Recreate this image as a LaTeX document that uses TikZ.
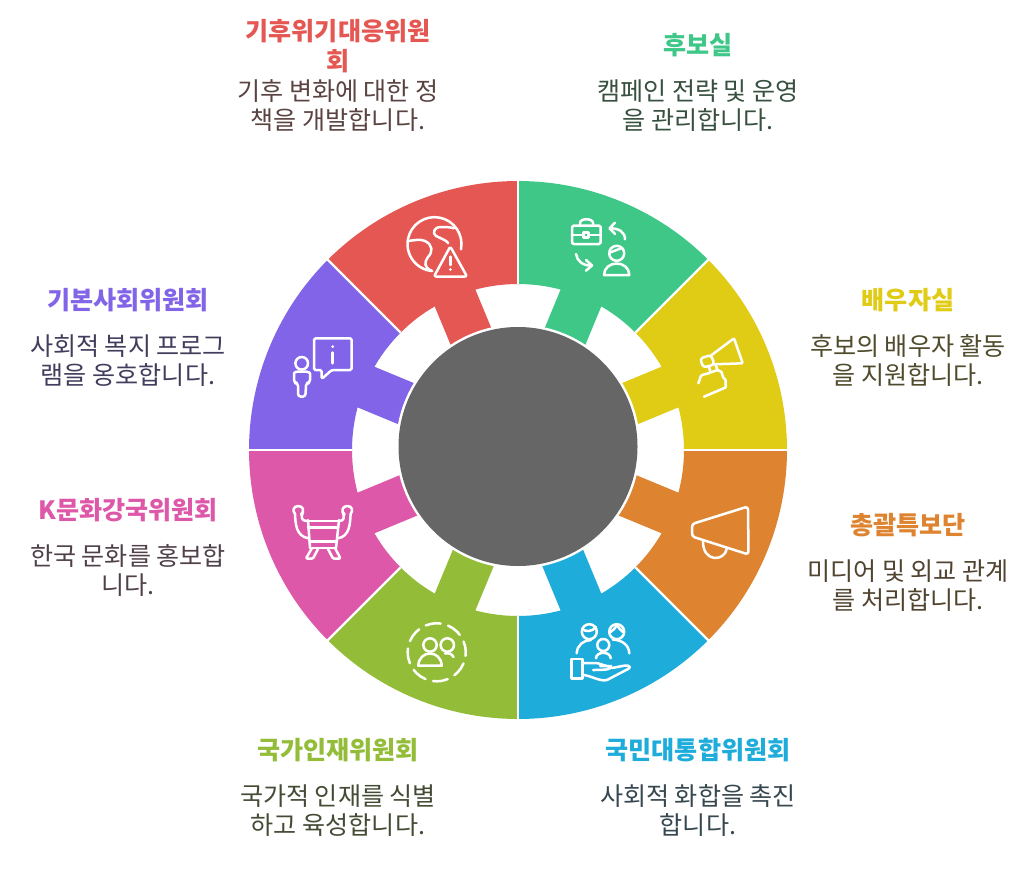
\documentclass[tikz,border=0pt]{standalone}
\usepackage{fontspec}
\setmainfont{Noto Sans CJK KR}
\definecolor{cred}{HTML}{E55753}
\definecolor{cgreen}{HTML}{3EC787}
\definecolor{cyellow}{HTML}{E0CB15}
\definecolor{corange}{HTML}{DE8431}
\definecolor{cblue}{HTML}{1EACDB}
\definecolor{clime}{HTML}{93BD39}
\definecolor{cpink}{HTML}{DE58A9}
\definecolor{cpurple}{HTML}{8164E8}
\definecolor{cgray}{HTML}{666666}
\definecolor{tred}{HTML}{5A4341}
\definecolor{tgreen}{HTML}{37503F}
\definecolor{tyellow}{HTML}{4F4B2C}
\definecolor{torange}{HTML}{50432F}
\definecolor{tblue}{HTML}{36474F}
\definecolor{tlime}{HTML}{444B35}
\definecolor{tpink}{HTML}{504049}
\definecolor{tpurple}{HTML}{423D5C}
\newcommand{\petal}[2]{%
  \begin{scope}[rotate=#1]
    \fill[#2] (100,-22) -- (164.53,-22) arc[start angle=-7.62,end angle=-22.5,radius=166]
      -- (-22.5:269) arc[start angle=-22.5,end angle=22.5,radius=269]
      -- (22.5:166) arc[start angle=22.5,end angle=7.62,radius=166] -- (100,22) -- cycle;
  \end{scope}}
\tikzset{
  title/.style={font=\fontsize{25.1}{29.5}\selectfont\bfseries,align=center,anchor=center,inner sep=0pt},
  body/.style={font=\fontsize{25.1}{29.5}\selectfont,align=center,anchor=center,inner sep=0pt},
  icon/.style={draw=white,line width=2.5pt,line cap=round,line join=round,fill=none},
  sep/.style={draw=white,line width=2.4pt}
}
\begin{document}
\begin{tikzpicture}[x=1pt,y=-1pt]
\useasboundingbox (0,0) rectangle (1032,869);
\fill[white] (0,0) rectangle (1032,869);
% petals
\begin{scope}[shift={(518,450)},y=1pt]
  \petal{67.5}{cgreen}
  \petal{22.5}{cyellow}
  \petal{-22.5}{corange}
  \petal{-67.5}{cblue}
  \petal{-112.5}{clime}
  \petal{-157.5}{cpink}
  \petal{157.5}{cpurple}
  \petal{112.5}{cred}
  \foreach \a in {0,45,...,315} \draw[sep] (\a:166) -- (\a:272);
\end{scope}
% hub
\fill[white] (518,446.5) circle[radius=122pt];
\fill[cgray] (518,446.5) circle[radius=119.5pt];
% --- red: globe with warning
\draw[icon] (461,249.3) arc[start angle=-11,end angle=265,radius=27pt];
\draw[icon,rounded corners=2pt] (450.3,246.5) -- (467,276.5) -- (434,276.5) -- cycle;
\draw[icon] (450.3,256.7) -- (450.3,265);
\fill[white] (450.3,269.5) circle[radius=1.5pt];
\draw[icon] (408.3,241) .. controls (415,240) and (421,239) .. (425,241) .. controls (433,245) and (433,252) .. (428,257) .. controls (424,262) and (424,268) .. (431.7,270.7);
\draw[icon] (454,228.3) .. controls (450,227) and (445,227) .. (441,227) .. controls (434,227) and (432,233) .. (436,236) .. controls (442,239) and (446,240) .. (448.3,243.3);
% --- green: briefcase, arrows, person
\draw[icon,rounded corners=1.5pt] (572,225.7) rectangle (600.7,244);
\draw[icon] (580,225.7) -- (580,223) .. controls (580,218) and (593,218) .. (593,223) -- (593,225.7);
\draw[icon] (572,235) -- (583.3,235) (588.7,235) -- (600.7,235);
\draw[icon] (583.3,232.3) rectangle (588.7,237.7);
\draw[icon] (625,239.3) .. controls (625,232) and (619,228.3) .. (610,228.3);
\draw[icon] (615,222.7) -- (609.5,228.3) -- (615,234);
\draw[icon] (576,254) .. controls (577,261) and (583,266) .. (591.7,265.5);
\draw[icon] (586,260) -- (592,265.5) -- (586,270.7);
\draw[icon] (616.7,253.3) circle[radius=7.5pt];
\draw[icon] (610,252.5) -- (622,248);
\draw[icon] (604,275) .. controls (604,268) and (610,263.5) .. (616.7,263.5) .. controls (623.5,263.5) and (629.3,268) .. (629.3,275) -- cycle;
% --- yellow: megaphone in hand
\draw[icon,rounded corners=1pt] (711,355.5) -- (734,338.3) -- (742.7,363.3) -- (714.3,364.3);
\draw[icon,rounded corners=3pt] (700,358.5) -- (711,355) -- (714.5,364.5) -- (703.3,367.5) -- cycle;
\draw[icon] (709,367) -- (710.5,372.5) -- (717.5,370) -- (715.5,364.5);
\draw[icon] (698.3,383.3) .. controls (700,380) and (700,376) .. (702,375) -- (709.5,373);
\draw[icon] (717.5,370) -- (721.5,372) -- (723,377) -- (725.5,380) -- (725.5,387.5) -- (704,396.7);
% --- orange: megaphone
\draw[icon,rounded corners=3pt] (692,524) -- (748,506.5) -- (748.5,554.5) -- (692,536.5) -- cycle;
\draw[icon] (703,540) .. controls (702,563) and (725,562) .. (727,548);
% --- purple: person and info bubble
\draw[icon,rounded corners=1.5pt] (321.7,370) -- (314,370) -- (314,338.3) -- (351.7,338.3) -- (351.7,370) -- (331.7,370) -- (321.7,379) -- cycle;
\draw[icon] (332.7,352.5) -- (332.7,363.3);
\fill[white] (332.7,346.7) circle[radius=1.5pt];
\draw[icon] (301.7,363.3) circle[radius=6.3pt];
\draw[icon,rounded corners=3pt] (298,383) -- (294,383) -- (294,376.5) .. controls (294,372) and (298,371.5) .. (301.7,371.5) .. controls (305,371.5) and (310,372) .. (310,376.5) -- (310,383) -- (306,383) -- (305.5,396.7) -- (298,396.7) -- cycle;
% --- pink: chair
\draw[icon] (301,514.5) .. controls (305,511) and (303,506) .. (298.3,506) .. controls (293,506) and (292.5,511) .. (295,514) .. controls (295.5,524) and (296,536) .. (308.3,538.3);
\draw[icon] (303,512) .. controls (301,517) and (301,521) .. (307,521);
\draw[icon] (344.6,514.5) .. controls (340.6,511) and (342.6,506) .. (347.3,506) .. controls (352.6,506) and (353.1,511) .. (350.6,514) .. controls (350.1,524) and (349.6,536) .. (338.3,538.3);
\draw[icon] (342.6,512) .. controls (344.6,517) and (344.6,521) .. (339,521);
\draw[icon] (307,521) -- (339,521) (308,527.5) -- (338,527.5) (310,541.5) -- (336,541.5) (310,548) -- (336,548);
\draw[icon] (308,520) -- (310,548) (339,520) -- (336,548);
\draw[icon,rounded corners=1pt] (312,548) -- (306,558.5) -- (313,558.5) -- (318,549);
\draw[icon,rounded corners=1pt] (328,549) -- (333,558.5) -- (340.5,558.5) -- (335,548);
% --- lime: people in a dashed ring
\draw[icon,dash pattern=on 15pt off 7.8pt,dash phase=4pt] (436.7,652.3) circle[radius=29pt];
\draw[icon] (430,645) circle[radius=6.7pt];
\draw[icon] (447.3,645) circle[radius=6.7pt];
\draw[icon] (418.3,665.7) .. controls (418.5,658) and (424,653.5) .. (430,653.5) .. controls (436,653.5) and (441.5,658) .. (441.7,665.7) -- cycle;
\draw[icon] (445,653.5) .. controls (449,652.5) and (452,654) .. (453.5,657);
% --- blue: family on a hand
\draw[icon] (589.3,631.7) circle[radius=7.5pt];
\draw[icon] (582,629) .. controls (586,632) and (592,632) .. (596,627);
\draw[icon] (616.7,631.7) circle[radius=7.5pt];
\draw[icon] (610.5,632) .. controls (613,630) and (616,628) .. (617,625) .. controls (618,628) and (621,630) .. (623,632);
\draw[icon] (603.3,645) circle[radius=6pt];
\draw[icon] (576.7,653.3) .. controls (577,645) and (584,640) .. (591,640);
\draw[icon] (612.7,639.5) .. controls (622,640) and (629,645) .. (629.3,653.3);
\draw[icon] (596,658.3) .. controls (596,651) and (610.7,651) .. (610.7,658.3);
\draw[icon] (571.7,659) rectangle (582.7,678.3);
\draw[icon] (582.7,663) -- (595,663) .. controls (600,663) and (603,665.5) .. (607,666);
\draw[icon] (600,666) -- (611,666) .. controls (612,669) and (608,670) .. (593,670);
\draw[icon] (612,668) -- (625,665.5) .. controls (630,665) and (631,668) .. (628,669) -- (607,680) .. controls (600,682) and (590,675) .. (582.7,675);
% --- labels
\node[title,text=cred] (t1) at (338,46) {기후위기대응위원\\회};
\node[body,text=tred] (b1) at (338,105.5) {기후 변화에 대한 정\\책을 개발합니다.};
\node[title,text=cgreen] (t2) at (698,45) {후보실};
\node[body,text=tgreen] (b2) at (698,105.5) {캠페인 전략 및 운영\\을 관리합니다.};
\node[title,text=cyellow] (t3) at (908,300) {배우자실};
\node[body,text=tyellow] (b3) at (908,360.5) {후보의 배우자 활동\\을 지원합니다.};
\node[title,text=corange] (t4) at (908,525) {총괄특보단};
\node[body,text=torange] (b4) at (908,585.5) {미디어 및 외교 관계\\를 처리합니다.};
\node[title,text=cblue] (t5) at (698,750) {국민대통합위원회};
\node[body,text=tblue] (b5) at (698,810.5) {사회적 화합을 촉진\\합니다.};
\node[title,text=clime] (t6) at (338,750) {국가인재위원회};
\node[body,text=tlime] (b6) at (338,810.5) {국가적 인재를 식별\\하고 육성합니다.};
\node[title,text=cpink] (t7) at (128,510) {K문화강국위원회};
\node[body,text=tpink] (b7) at (128,570.5) {한국 문화를 홍보합\\니다.};
\node[title,text=cpurple] (t8) at (128,300) {기본사회위원회};
\node[body,text=tpurple] (b8) at (128,360.5) {사회적 복지 프로그\\램을 옹호합니다.};
\end{tikzpicture}
\end{document}
